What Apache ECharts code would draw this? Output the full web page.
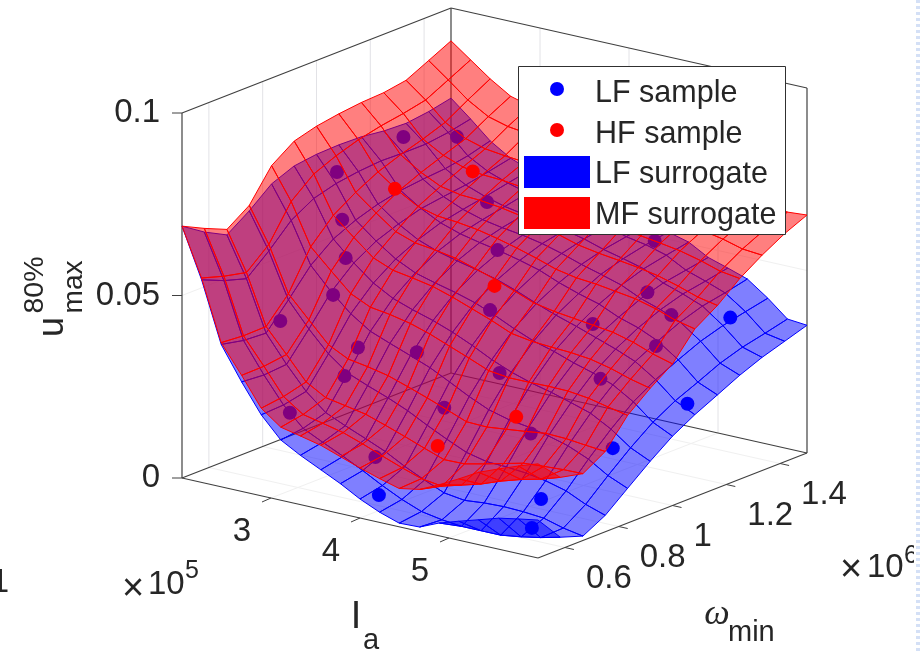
<!DOCTYPE html>
<html>
<head>
    <meta charset="utf-8">
    <title>surrogate surfaces</title>
    <script src="https://cdn.jsdelivr.net/npm/echarts@6/dist/echarts.min.js"></script>
    <style>html,body{margin:0;padding:0;background:#fff}</style>
</head>
<body>
    <div id="main" style="width:924px;height:651px;"></div>
    <script type="text/javascript">

        // axis ranges and ticks (Ia in 1e5, omega in 1e6)
        var laRange = [2, 6];
        var omegaRange = [0.5, 1.5];
        var zRange = [0, 0.1];
        var laTicks = [3, 4, 5];
        var omegaTicks = [0.6, 0.8, 1, 1.2, 1.4];
        var omegaTickText = ['0.6', '0.8', '1', '1.2', '1.4'];
        var zTicks = [0, 0.05, 0.1];
        var zTickText = ['0', '0.05', '0.1'];

        // surface grid
        var laGrid = [2, 2.22, 2.44, 2.67, 2.89, 3.11, 3.33, 3.56, 3.78, 4, 4.22, 4.44, 4.67, 4.89, 5.11, 5.33, 5.56, 5.78, 6];
        var omegaGrid = [0.5, 0.583, 0.667, 0.75, 0.833, 0.917, 1, 1.083, 1.167, 1.25, 1.333, 1.417, 1.5];

        // LF surrogate, z * 1000, one row per omega
        var lfSurface = [
            [69, 55.5, 39, 30, 22.2, 16.5, 13.5, 10.8, 8.2, 5.2, 2.8, 1, 1.2, 3.5, 5.2, 6.8, 8.5, 9.5, 10.4],
            [65, 52.9, 37.7, 29.5, 22.5, 17.3, 14.7, 12.1, 9.4, 6.5, 3.9, 1.8, 0.8, 0.2, 0.2, 0.2, 1, 2, 3.3],
            [61.8, 51, 37.3, 30, 23.8, 19.2, 16.8, 14.5, 12.2, 9.3, 6.8, 4.5, 3.7, 4.2, 4.4, 4.2, 3.7, 2.2, 1.2],
            [66, 56.2, 44, 37.3, 31.7, 27.6, 25.4, 23.3, 21, 18.2, 15.6, 13.2, 11.9, 11.7, 11.2, 10.3, 8.8, 6.3, 4.5],
            [71, 62.2, 51.1, 45.1, 40.3, 36.7, 34.6, 32.5, 30.4, 27.7, 24.9, 22.5, 21, 20.2, 19, 17.5, 15.1, 11.8, 9.5],
            [73.5, 65.8, 55.9, 50.6, 46.3, 43.3, 41.4, 39.7, 37.7, 35.3, 32.6, 30.4, 28.6, 27.3, 25.7, 24, 20.9, 17, 14.5],
            [74.3, 67.5, 58.7, 54.2, 50.5, 47.9, 46.4, 45, 43.4, 41.2, 38.7, 36.5, 34.9, 33, 31.4, 29.4, 26, 21.6, 19],
            [74.5, 68.4, 60.7, 56.5, 53.4, 51.4, 50, 48.7, 47.3, 45.4, 43.2, 41.2, 39.4, 37.5, 35.6, 33.4, 29.7, 25.1, 22.5],
            [74.3, 68.9, 62, 58.3, 55.6, 53.8, 52.6, 51.5, 50.2, 48.7, 46.5, 44.7, 43.1, 40.7, 39, 36.6, 32.7, 27.8, 25.5],
            [73.5, 68.7, 62.7, 59.2, 56.9, 55.3, 54.3, 53.5, 52.4, 50.9, 49.1, 47.6, 45.9, 43.4, 41.6, 39.4, 35.4, 30.6, 28.5],
            [73.2, 68.7, 63.2, 60, 58, 56.5, 55.5, 54.6, 53.7, 52.5, 50.8, 49.5, 48, 45.3, 43.5, 41.4, 37.3, 32.6, 31],
            [74, 69.5, 64.3, 61.2, 59.3, 57.8, 56.7, 55.7, 54.8, 53.6, 51.9, 50.9, 49.3, 46.4, 44.6, 42.6, 38.7, 34, 33],
            [75.3, 70.8, 66, 62.5, 60.5, 59, 57.5, 56.5, 55.5, 54.5, 53, 52, 50.5, 47.5, 45.8, 44, 40, 35.5, 35]
        ];

        // MF surrogate, z * 1000
        var mfSurface = [
            [69, 56, 39.5, 31.8, 24, 20, 18.8, 17.5, 15.6, 13.7, 12, 10.5, 11.5, 14, 16.8, 19.8, 22, 24, 25.8],
            [66, 54.1, 39, 31.9, 24.8, 21.1, 19.9, 18.6, 16.7, 14.6, 12.6, 10.8, 10, 11.5, 13, 15, 16.7, 18, 19.7],
            [63.3, 52.7, 39.1, 32.7, 26.4, 23.3, 22.3, 21.2, 19.4, 17.5, 15.5, 13.6, 13.7, 14.9, 16.2, 17.5, 17.9, 18.2, 18.3],
            [67.5, 58, 45.7, 39.8, 34.2, 31.5, 30.6, 29.4, 27.6, 25.7, 23.7, 21.6, 21.4, 22, 22.6, 23.3, 23.1, 22.5, 22],
            [76, 67.4, 56.2, 50.8, 45.8, 43.3, 42.5, 41.3, 39.6, 37.5, 35.4, 33.2, 32.5, 32.5, 32.6, 32.5, 31.8, 30.6, 29.5],
            [80.3, 72.5, 62.4, 57.6, 53.2, 51, 50.1, 49, 47.3, 45.3, 43.3, 41, 40.1, 39.7, 39.4, 38.8, 37.5, 35.8, 34.5],
            [82, 75.1, 66.3, 61.9, 58, 56.1, 55.4, 54.4, 52.8, 51.1, 49.1, 47, 45.9, 45.2, 44.5, 43.8, 42.3, 40.3, 38.8],
            [83, 77.1, 69.5, 65.5, 62.5, 61.1, 60.6, 59.8, 58.6, 57.2, 55.6, 53.8, 52.7, 52.2, 51.4, 50.6, 49.1, 47.2, 46],
            [83.7, 78.5, 71.8, 68.2, 65.6, 64.5, 64.2, 63.5, 62.5, 61.2, 59.6, 58, 57, 56.3, 55.5, 54.5, 52.9, 51.1, 50],
            [84, 79.5, 73.7, 70.5, 68.5, 67.6, 67.3, 66.6, 65.8, 64.8, 63.5, 62.2, 61.4, 60.6, 59.8, 58.9, 57.5, 55.8, 55],
            [85, 80.8, 75.9, 72.7, 71.1, 70.4, 69.9, 69.4, 68.6, 67.8, 66.7, 65.6, 64.6, 64, 63, 62.1, 61, 59.5, 59],
            [88, 83.9, 79.6, 76.3, 74.8, 74.1, 73.4, 72.6, 71.8, 70.9, 69.8, 68.8, 67.8, 67, 66, 65.1, 63.9, 62.5, 62.5],
            [91, 87, 83, 79.5, 78, 77, 76, 75, 74, 73, 72, 71, 70, 69, 68, 67, 66, 64.8, 65.2]
        ];

        // LF samples
        var lfLa = [2.07, 2.37, 2.23, 2.44, 2.63, 2.64, 2.5, 3.07, 3.43, 3.07, 2.91, 3.81, 4.04, 4.36, 3.95, 3.58, 3.16, 4.86, 3.91, 5.43, 5.78, 5.48, 5.88, 5.38, 4.65, 5.04, 5.21, 5.08, 4.66, 4.44];
        var lfOmega = [1.3, 1.4, 1, 0.95, 0.9, 0.85, 0.7, 0.8, 0.9, 0.75, 0.6, 0.62, 0.8, 0.9, 1, 1.15, 1.25, 0.85, 0.6, 0.7, 0.55, 0.95, 1.095, 1.42, 1.15, 1.05, 1.2, 1.3, 1.35, 1.45];
        var lfZ = [0.0708, 0.0696, 0.0707, 0.0602, 0.0522, 0.0436, 0.04, 0.033, 0.0308, 0.0266, 0.02, 0.0122, 0.0218, 0.0302, 0.0423, 0.0524, 0.0604, 0.0178, 0.0029, 0.0073, 0.0056, 0.0143, 0.0245, 0.036, 0.038, 0.028, 0.0336, 0.0385, 0.041, 0.051];

        // HF samples
        var hfLa = [2.73, 3, 4, 5, 4.48];
        var hfOmega = [1.05, 1.25, 1, 0.75, 0.63];
        var hfZ = [0.0674, 0.0679, 0.0492, 0.026, 0.0186];

        // view: fixed MATLAB-like orthographic projection, window pixels
        function project(la, om, z) {
            var u = (la - laRange[0]) / (laRange[1] - laRange[0]);
            var v = (om - omegaRange[0]) / (omegaRange[1] - omegaRange[0]);
            var w = (z - zRange[0]) / (zRange[1] - zRange[0]);
            return [182 + 356 * u + 269 * v, 478 + 80 * u - 105 * v - 365 * w];
        }

        var textColor = '#262626';
        var fontName = '"Liberation Sans", Arial, sans-serif';

        function line(api, a, b, color, width) {
            var p = api.coord(a), q = api.coord(b);
            return {
                type: 'line',
                shape: {x1: p[0], y1: p[1], x2: q[0], y2: q[1]},
                style: {stroke: color, lineWidth: width}
            };
        }

        function label(api, pos, dx, dy, text, size, align) {
            var p = api.coord(pos);
            return {
                type: 'text',
                x: p[0] + dx,
                y: p[1] + dy,
                style: {
                    text: text,
                    fill: textColor,
                    font: size + 'px ' + fontName,
                    textAlign: align,
                    textVerticalAlign: 'middle'
                }
            };
        }

        var la0 = laRange[0], la1 = laRange[1], om0 = omegaRange[0], om1 = omegaRange[1], z0 = zRange[0], z1 = zRange[1];

        function renderBox(params, api) {
            var kids = [];
            var grid = '#e2e2e6', edge = '#404040';
            // back walls and floor grid
            omegaTicks.forEach(function (t) {
                kids.push(line(api, project(la0, t, z0), project(la0, t, z1), grid, 1));
                kids.push(line(api, project(la0, t, z0), project(la1, t, z0), '#f0f0f0', 1));
            });
            laTicks.forEach(function (t) {
                kids.push(line(api, project(t, om1, z0), project(t, om1, z1), grid, 1));
                kids.push(line(api, project(t, om0, z0), project(t, om1, z0), '#f0f0f0', 1));
            });
            zTicks.slice(1, 2).forEach(function (t) {
                kids.push(line(api, project(la0, om0, t), project(la0, om1, t), '#f0f0f0', 1));
                kids.push(line(api, project(la0, om1, t), project(la1, om1, t), '#f0f0f0', 1));
            });
            // box edges
            var L = [la0, om0], F = [la1, om0], R = [la1, om1], B = [la0, om1];
            [[L, F], [F, R], [L, B], [B, R]].forEach(function (s) {
                kids.push(line(api, project(s[0][0], s[0][1], z0), project(s[1][0], s[1][1], z0), edge, 1.2));
            });
            [[L, B], [B, R]].forEach(function (s) {
                kids.push(line(api, project(s[0][0], s[0][1], z1), project(s[1][0], s[1][1], z1), edge, 1.2));
            });
            [L, B, R].forEach(function (c) {
                kids.push(line(api, project(c[0], c[1], z0), project(c[0], c[1], z1), edge, 1.2));
            });
            // tick marks
            laTicks.forEach(function (t) {
                var a = project(t, om0, z0);
                kids.push(line(api, a, [a[0] - 9, a[1] + 4], edge, 1));
            });
            omegaTicks.forEach(function (t) {
                var a = project(la1, t, z0);
                kids.push(line(api, a, [a[0] + 9, a[1] + 2], edge, 1));
            });
            zTicks.forEach(function (t) {
                var a = project(la0, om0, t);
                kids.push(line(api, a, [a[0] - 10, a[1]], edge, 1));
            });
            return {type: 'group', children: kids};
        }

        function quadItems() {
            var items = [];
            for (var j = 0; j < omegaGrid.length - 1; j++) {
                for (var i = 0; i < laGrid.length - 1; i++) {
                    items.push([i, j]);
                }
            }
            // far corner first
            items.sort(function (a, b) { return (a[0] - a[1]) - (b[0] - b[1]); });
            return items;
        }

        function surfaceRenderer(table, fill, stroke) {
            return function (params, api) {
                var i = api.value(0), j = api.value(1);
                var corners = [[i, j], [i + 1, j], [i + 1, j + 1], [i, j + 1]];
                var pts = corners.map(function (c) {
                    return api.coord(project(laGrid[c[0]], omegaGrid[c[1]], table[c[1]][c[0]] / 1000));
                });
                return {
                    type: 'polygon',
                    shape: {points: pts},
                    style: {fill: fill, stroke: stroke, lineWidth: 1, lineJoin: 'round'}
                };
            };
        }

        function renderLabels(params, api) {
            var kids = [];
            laTicks.forEach(function (t) {
                kids.push(label(api, project(t, om0, z0), -29, 34, String(t), 33, 'center'));
            });
            omegaTicks.forEach(function (t, k) {
                kids.push(label(api, project(la1, t, z0), 21, 31, omegaTickText[k], 33, 'left'));
            });
            zTicks.forEach(function (t, k) {
                kids.push(label(api, project(la0, om0, t), -22, 0, zTickText[k], 33, 'right'));
            });
            return {type: 'group', children: kids};
        }

        function samplePoints(la, om, z) {
            return la.map(function (v, k) { return project(v, om[k], z[k]); });
        }

        function text(str, x, y, size, align, extra) {
            var o = {
                type: 'text', x: x, y: y, z: 100,
                style: {
                    text: str, fill: textColor, textAlign: align || 'left', textVerticalAlign: 'middle',
                    font: ((extra && extra.style) || '') + ' ' + size + 'px ' + ((extra && extra.family) || fontName)
                }
            };
            if (extra && extra.rotation) { o.rotation = extra.rotation; }
            return o;
        }

        var chart = echarts.init(document.getElementById('main'));

        chart.setOption({
            animation: false,
            backgroundColor: '#ffffff',
            grid: {left: 0, right: 0, top: 0, bottom: 0},
            xAxis: {type: 'value', min: 0, max: 924, show: false},
            yAxis: {type: 'value', min: 0, max: 651, inverse: true, show: false},
            series: [
                {type: 'custom', coordinateSystem: 'cartesian2d', z: 1, silent: true, clip: false, renderItem: renderBox, data: [[0, 0]]},
                {
                    name: 'LF surrogate', type: 'custom', coordinateSystem: 'cartesian2d', z: 2, silent: true, clip: false,
                    renderItem: surfaceRenderer(lfSurface, 'rgba(0,0,255,0.5)', '#0000ff'), data: quadItems()
                },
                {
                    name: 'LF sample', type: 'scatter', z: 3, silent: true, symbolSize: 14,
                    itemStyle: {color: '#0000ff', opacity: 1}, data: samplePoints(lfLa, lfOmega, lfZ)
                },
                {
                    name: 'MF surrogate', type: 'custom', coordinateSystem: 'cartesian2d', z: 4, silent: true, clip: false,
                    renderItem: surfaceRenderer(mfSurface, 'rgba(255,0,0,0.5)', '#ff0000'), data: quadItems()
                },
                {
                    name: 'HF sample', type: 'scatter', z: 5, silent: true, symbolSize: 14,
                    itemStyle: {color: '#ff0000', opacity: 1}, data: samplePoints(hfLa, hfOmega, hfZ)
                },
                {type: 'custom', coordinateSystem: 'cartesian2d', z: 6, silent: true, clip: false, renderItem: renderLabels, data: [[0, 0]]}
            ],
            graphic: {
                elements: [
                    // legend
                    {type: 'rect', z: 100, shape: {x: 518.5, y: 66.5, width: 267, height: 168}, style: {fill: '#fff', stroke: '#303030', lineWidth: 1}},
                    {type: 'circle', z: 101, shape: {cx: 557, cy: 89, r: 7}, style: {fill: '#0000ff'}},
                    {type: 'circle', z: 101, shape: {cx: 557, cy: 130, r: 7}, style: {fill: '#ff0000'}},
                    {type: 'rect', z: 101, shape: {x: 524, y: 156, width: 66, height: 32}, style: {fill: '#0000ff'}},
                    {type: 'rect', z: 101, shape: {x: 524, y: 197, width: 66, height: 32}, style: {fill: '#ff0000'}},
                    Object.assign(text('LF sample', 595, 94, 30.5), {z: 101}),
                    Object.assign(text('HF sample', 595, 135, 30.5), {z: 101}),
                    Object.assign(text('LF surrogate', 595, 175, 30.5), {z: 101}),
                    Object.assign(text('MF surrogate', 595, 216, 30.5), {z: 101}),
                    // z label
                    text('u', 53, 327, 36, 'center', {rotation: Math.PI / 2}),
                    text('80%', 35, 285, 28.5, 'center', {rotation: Math.PI / 2}),
                    text('max', 74, 287, 28, 'center', {rotation: Math.PI / 2}),
                    // exponents
                    text('\u00d7', 133, 590, 38, 'center'),
                    text('10', 148, 585, 33),
                    text('5', 185, 571, 25),
                    text('\u00d7', 851, 571, 38, 'center'),
                    text('10', 867, 568, 33),
                    text('6', 904, 556, 25),
                    // axis names
                    text('I', 356, 618, 38, 'center'),
                    text('a', 363, 641, 29),
                    text('\u03c9', 717, 615, 36, 'center', {style: 'italic', family: '"Liberation Serif", serif'}),
                    text('min', 728, 633, 29),
                    // fragment at the left border
                    text('1', 9, 583, 33, 'right'),
                    // scanned page border on the right
                    {type: 'rect', z: 102, shape: {x: 914, y: 0, width: 10, height: 651}, style: {fill: '#fff'}},
                    {type: 'line', z: 103, shape: {x1: 918, y1: 0, x2: 918, y2: 651}, style: {stroke: '#d4e0f6', lineWidth: 4, lineDash: [3, 3]}}
                ]
            }
        });

    </script>
</body>
</html>
